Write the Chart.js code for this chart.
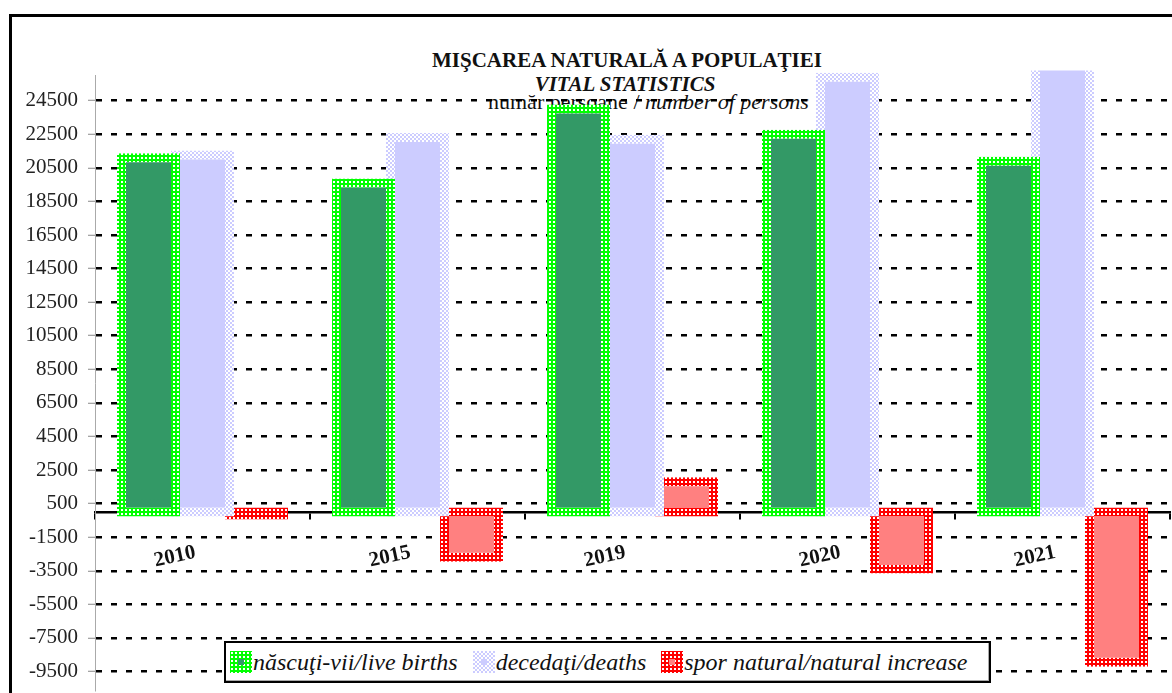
<!DOCTYPE html>
<html>
<head>
<meta charset="utf-8">
<script src="https://cdn.jsdelivr.net/npm/chart.js@4.4.1/dist/chart.umd.min.js"></script>
<style>
body { margin: 0; background: #fff; }
#wrap { position: relative; width: 1172px; height: 693px; overflow: hidden; font-family: 'Liberation Serif', 'Times New Roman', serif; color: #111; }
#frame { position: absolute; left: 9px; top: 14px; width: 1200px; height: 720px; border: 3px solid #000; }
.t { position: absolute; white-space: nowrap; font-size: 21px; line-height: 21px; }
#t1 { left: 327px; width: 600px; text-align: center; top: 50px; font-weight: bold; }
#t2 { left: 325px; width: 600px; text-align: center; top: 74px; font-weight: bold; font-style: italic; }
#t3 { left: 488px; top: 91px; font-size: 22px; }
#chart { position: absolute; left: 0; top: 0; }
#legend { position: absolute; left: 224px; top: 641px; width: 759px; height: 38px; border: 2.5px solid #000;
  background: #fff; box-shadow: inset -1px -1px 0 #aaa; display: flex; align-items: center; padding-left: 4px; }
.item { display: flex; align-items: center; margin-right: 15px; }
.item canvas { width: 22px; height: 22px; margin-right: 1px; }
.item span { font-style: italic; font-size: 24px; line-height: 24px; }
</style>
</head>
<body>
<div id="wrap">
  <div id="frame"></div>
  <div class="t" id="t1">MIŞCAREA NATURALĂ A POPULAŢIEI</div>
  <div class="t" id="t2">VITAL STATISTICS</div>
  <div class="t" id="t3">număr persoane / <i>number of persons</i></div>
  <canvas id="chart" width="1172" height="693"></canvas>
  <div id="legend"></div>
</div>
<script>
// valori
var YEARS = ['2010', '2015', '2019', '2020', '2021'];
var LIVE_BIRTHS = [21100, 19600, 24000, 22500, 20900];
var DEATHS = [21270, 22300, 22200, 25900, 29850];
var NATURAL_INCREASE = [-170, -2700, 1800, -3400, -8950];
var Y_TICKS = [-9500, -7500, -5500, -3500, -1500, 500, 2500, 4500, 6500, 8500,
               10500, 12500, 14500, 16500, 18500, 20500, 22500, 24500];
var SERIES_NAMES = ['născuţi-vii/live births', 'decedaţi/deaths', 'spor natural/natural increase'];

var SERIF = "'Liberation Serif', 'Times New Roman', serif";
var FILLS = ['#339966', '#ccccff', '#ff8080'],
    FRAMES = ['#00ff00', '#ccccff', '#ff0000'],
    FRAME_STYLE = ['dots', 'checker', 'dots'];

function pattern(colour, style) {
    var c = document.createElement('canvas');
    c.width = 4; c.height = 4;
    var g = c.getContext('2d');
    g.fillStyle = '#fff';
    g.fillRect(0, 0, 4, 4);
    g.fillStyle = colour;
    if (style == 'checker') {
        g.fillRect(0, 0, 2, 2);
        g.fillRect(2, 2, 2, 2);
    } else {
        g.fillRect(0, 0, 4, 4);
        g.fillStyle = '#fff';
        g.fillRect(1, 1, 2, 2);
    }
    return g.createPattern(c, 'repeat');
}

// Excel draws the thick frame centred on the bar edge, so push it out by half
var frameOut = {
    id: 'frameOut',
    afterDatasetsUpdate: function (chart) {
        chart.data.datasets.forEach(function (ds, i) {
            chart.getDatasetMeta(i).data.forEach(function (bar) {
                var up = bar.y <= bar.base ? 1 : -1;
                bar.y -= 4.5 * up;
                bar.base += 4.5 * up;
                bar.width += 9;
            });
        });
    }
};

var SERIES = [LIVE_BIRTHS, DEATHS, NATURAL_INCREASE];
var datasets = SERIES.map(function (values, i) {
    return {
        label: SERIES_NAMES[i],
        data: values,
        backgroundColor: FILLS[i],
        borderColor: pattern(FRAMES[i], FRAME_STYLE[i])
    };
});

var ctx = document.getElementById('chart').getContext('2d');
var chart = new Chart(ctx, {
    type: 'bar',
    data: { labels: YEARS, datasets: datasets },
    options: {
        responsive: false,
        animation: false,
        events: [],
        layout: { padding: { left: 10, right: 2, top: 75.5, bottom: 3 } },
        datasets: {
            bar: {
                categoryPercentage: 0.7535,
                barPercentage: 1,
                borderWidth: 9,
                borderSkipped: false,
                clip: { left: 10, top: 5, right: 10, bottom: 10 }
            }
        },
        plugins: {
            legend: { display: false },
            title: { display: false },
            tooltip: { enabled: false }
        },
        scales: {
            x: {
                type: 'category',
                position: { y: 0 },
                z: 1,
                grid: { drawOnChartArea: false, tickLength: 6, color: '#000', lineWidth: 2 },
                border: { display: true, color: '#000', width: 2.5 },
                ticks: {
                    autoSkip: false, minRotation: 12, maxRotation: 12, padding: 22,
                    labelOffset: -7,
                    color: '#111',
                    font: { family: SERIF, size: 21, weight: 'bold' }
                }
            },
            y: {
                min: -10600,
                max: 26000,
                afterBuildTicks: function (s) {
                    s.ticks = Y_TICKS.map(function (v) { return { value: v }; });
                },
                afterFit: function (s) {
                    s.width = 85;
                    s.paddingTop = 0;
                    s.paddingBottom = 0;
                },
                grid: {
                    color: '#000', lineWidth: 2.5,
                    tickLength: 7, tickColor: '#888', tickWidth: 1, tickBorderDash: []
                },
                border: { display: true, color: '#aaa', width: 1, dash: [6, 9] },
                ticks: {
                    padding: 10, color: '#222',
                    font: { family: SERIF, size: 21 },
                    callback: function (v) { return String(v); }
                }
            }
        }
    },
    plugins: [frameOut]
});

// legenda in HTML, cu acelasi model ca barele
var legend = document.getElementById('legend');
chart.data.datasets.forEach(function (ds, i) {
    var item = document.createElement('div');
    item.className = 'item';
    var sw = document.createElement('canvas');
    sw.width = 22; sw.height = 22;
    var g = sw.getContext('2d');
    g.fillStyle = ds.borderColor;
    g.fillRect(0, 0, 22, 22);
    g.fillStyle = ds.backgroundColor;
    g.fillRect(8, 8, 6, 6);
    var txt = document.createElement('span');
    txt.textContent = ds.label;
    item.appendChild(sw);
    item.appendChild(txt);
    legend.appendChild(item);
});
</script>
</body>
</html>
